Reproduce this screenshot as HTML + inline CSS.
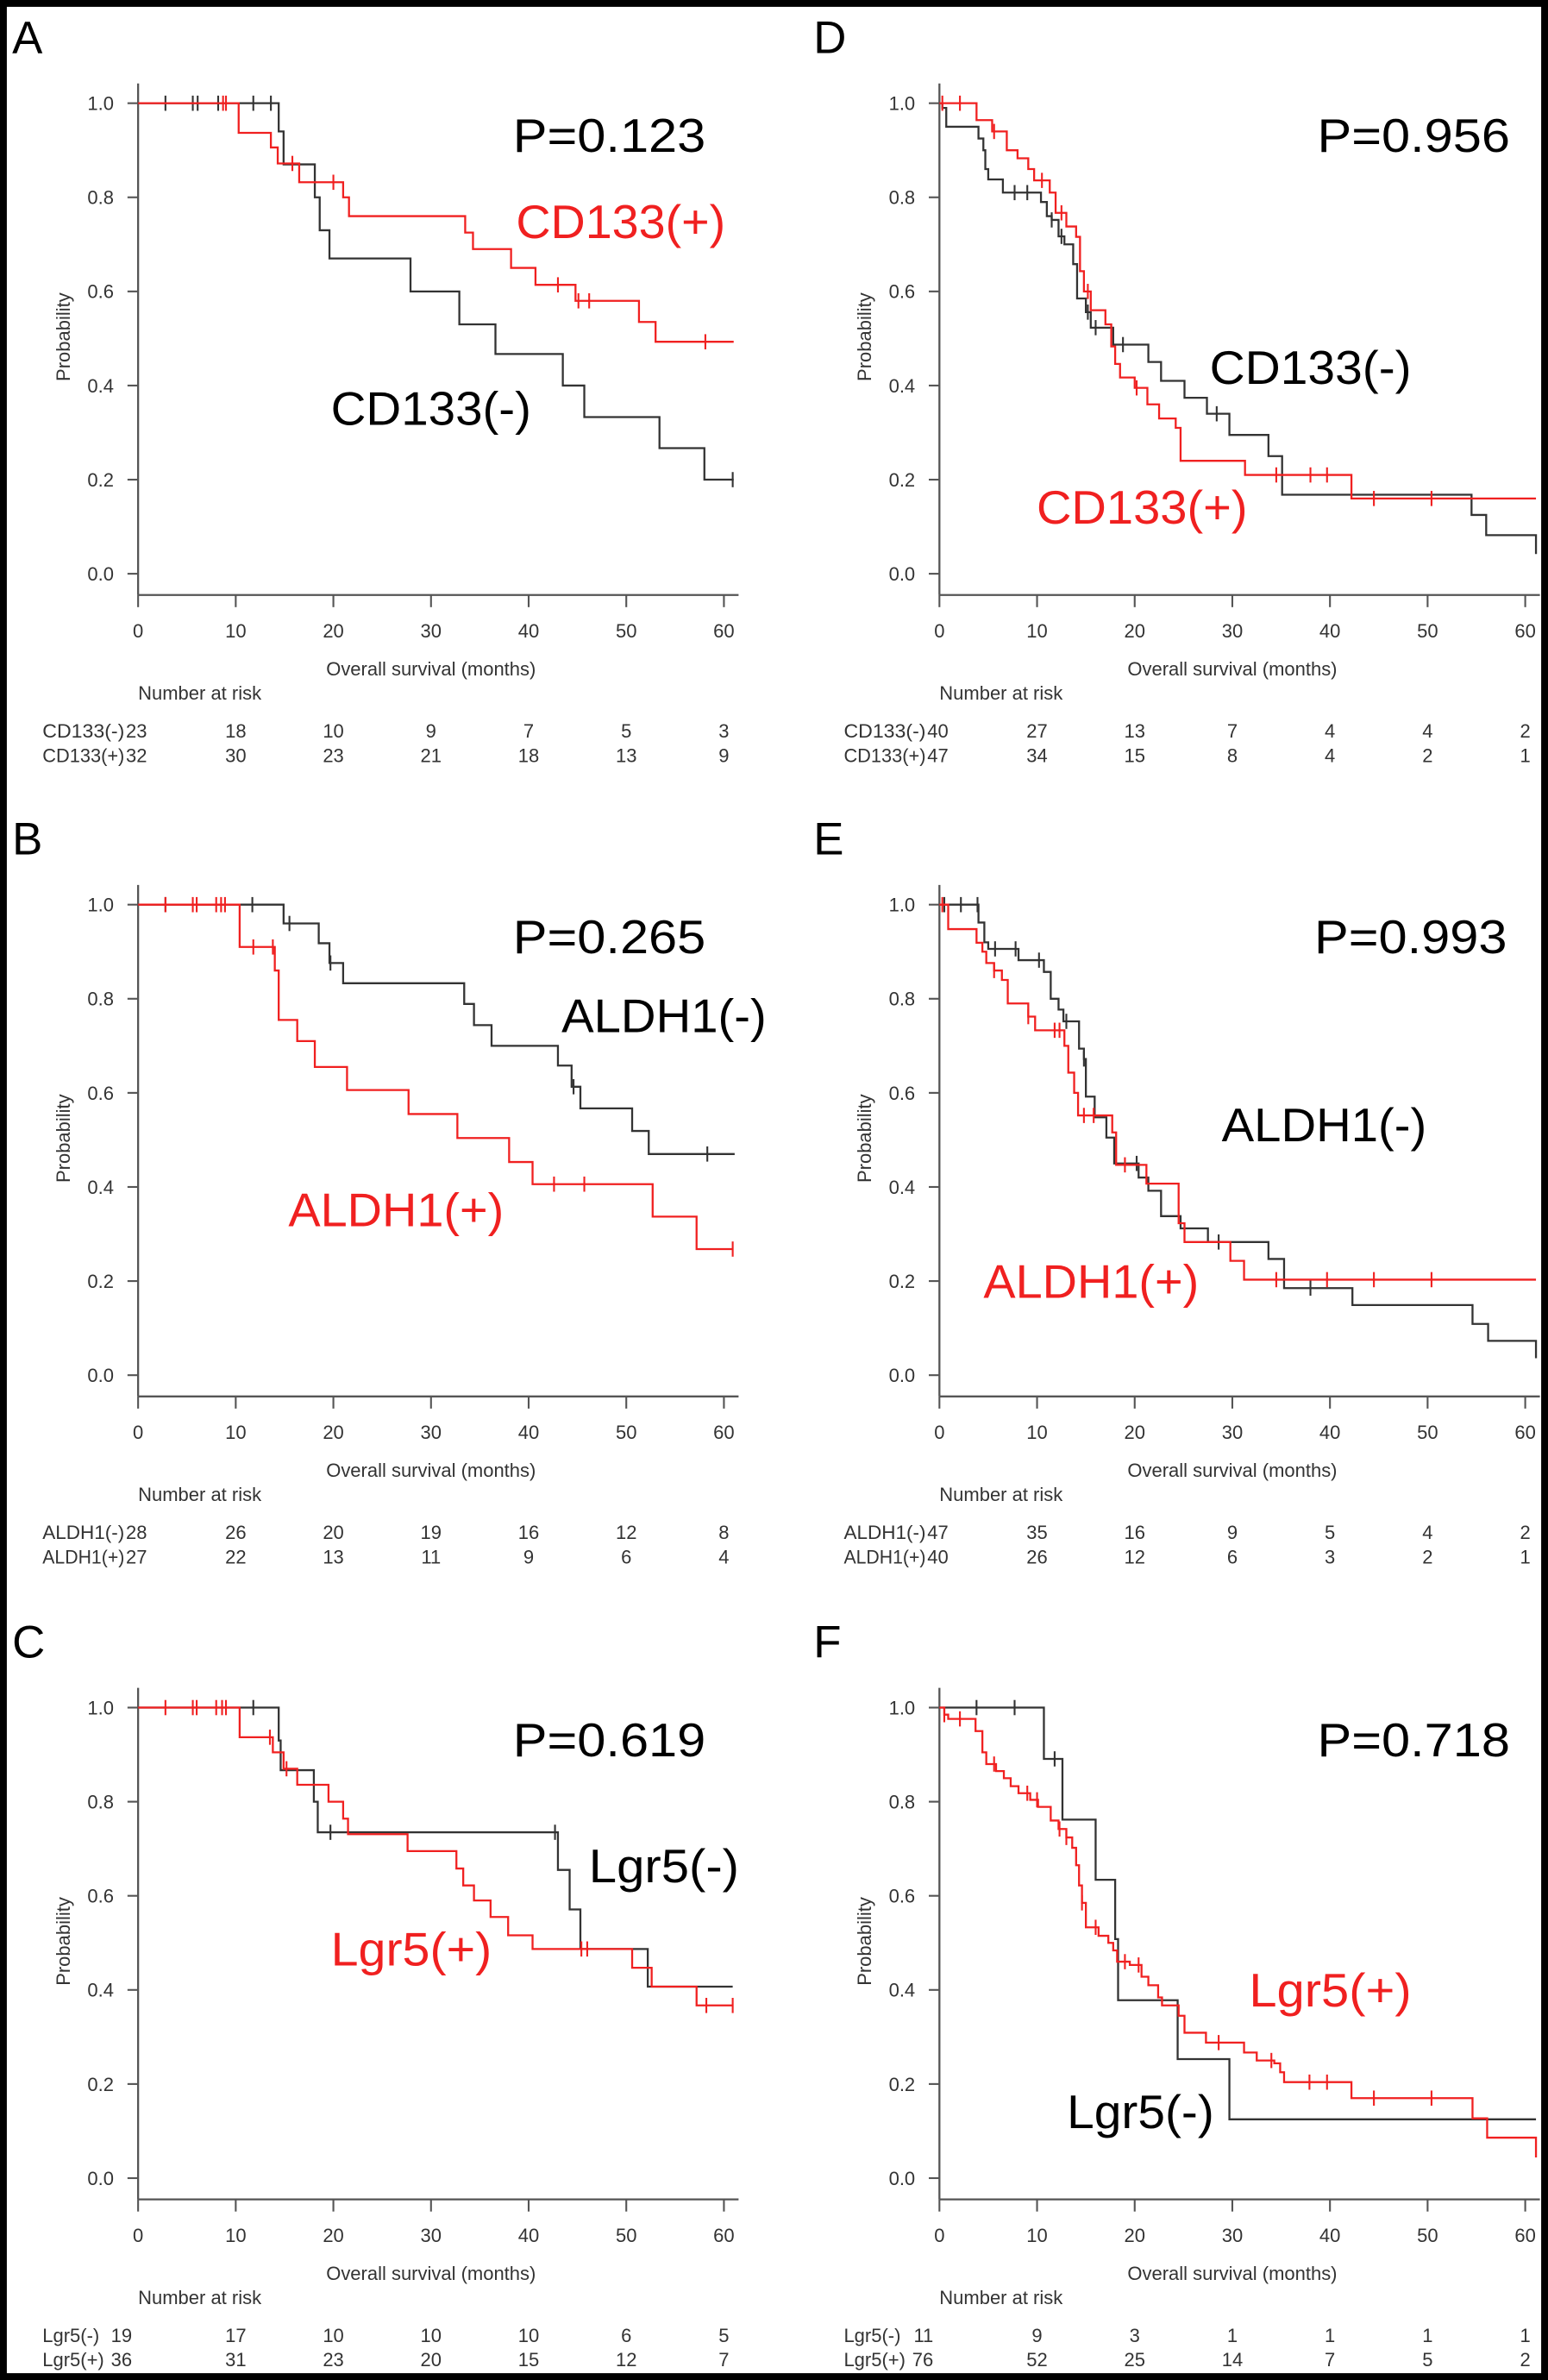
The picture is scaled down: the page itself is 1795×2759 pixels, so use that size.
<!DOCTYPE html>
<html><head><meta charset="utf-8">
<style>
html,body{margin:0;padding:0;background:#fff;}
svg{display:block;}
text{font-family:"Liberation Sans",Arial,sans-serif;}
</style></head>
<body>
<svg id="fig" width="1795" height="2759" viewBox="0 0 1020 1568" preserveAspectRatio="none" xmlns="http://www.w3.org/2000/svg">
<rect x="0" y="0" width="1020" height="1568" fill="#fff"/>
<rect x="2" y="2" width="1016" height="1564" fill="none" stroke="#000" stroke-width="5"/>
<g id="root"></g>
</svg>
<script>
const monthTicks = [0,10,20,30,40,50,60];
const probTicks = [0,0.2,0.4,0.6,0.8,1.0];

// Panel A
const aNegT=[14.4,14.9,18.1,18.6,19.6,27.9,32.9,36.6,43.5,45.7,53.4,58];
const aNegS=[0.94,0.87,0.8,0.73,0.67,0.6,0.53,0.467,0.4,0.333,0.267,0.2];
const aNegC=[2.8,5.6,6.1,8.2,11.8,13.6,60.9];
const aPosT=[10.3,13.6,14.3,16.5,21,21.6,33.5,34.3,38.2,40.7,44.8,51.3,53];
const aPosS=[0.937,0.906,0.872,0.832,0.8,0.76,0.725,0.69,0.65,0.614,0.58,0.535,0.493];
const aPosC=[8.7,9,15.8,20,43,45.1,46.2,58.1];
const aRiskNeg=[23,18,10,9,7,5,3];
const aRiskPos=[32,30,23,21,18,13,9];
// Panel D
const dNegT=[0.3,0.7,4.0,4.5,4.7,5.0,6.5,10.4,11,11.5,12.2,12.8,13.7,14.1,15,15.5,17.8,21.4,22.7,25.1,27.4,29.7,33.7,35.1,54.5,56,61.1];
const dNegS=[0.99,0.95,0.925,0.9,0.86,0.838,0.81,0.79,0.76,0.752,0.717,0.7,0.658,0.585,0.556,0.523,0.487,0.45,0.41,0.374,0.34,0.295,0.25,0.168,0.125,0.082,0.042];
const dNegC=[7.7,9,11.5,12.5,15.2,16,18.8,28.4];
const dPosT=[3.8,5.4,6.9,8,9.1,9.7,11.3,11.9,13,14,14.4,14.8,15.5,17,17.6,18,18.5,20,21.3,22.5,24.2,24.7,31.3,42.2];
const dPosS=[0.964,0.94,0.9,0.883,0.86,0.836,0.81,0.767,0.738,0.716,0.643,0.6,0.56,0.53,0.483,0.446,0.417,0.395,0.36,0.33,0.31,0.24,0.21,0.16];
const dPosC=[0.3,2.1,5.6,10.5,12.5,15.2,20.2,34.5,38,39.7,44.5,50.4];
const dRiskNeg=[40,27,13,7,4,4,2];
const dRiskPos=[47,34,15,8,4,2,1];
// Panel B
const bNegT=[14.9,18.5,19.6,21,33.4,34.4,36.2,43,44.4,45.3,50.6,52.3];
const bNegS=[0.96,0.918,0.876,0.833,0.789,0.744,0.7,0.658,0.613,0.567,0.519,0.47];
const bNegC=[2.8,11.7,15.5,19.7,44.6,58.3];
const bPosT=[10.4,14,14.4,16.3,18.1,21.4,27.7,32.7,38,40.4,52.7,57.2];
const bPosS=[0.91,0.86,0.755,0.71,0.655,0.606,0.555,0.504,0.453,0.406,0.337,0.268];
const bPosC=[2.8,5.6,6,8,8.5,8.9,11.8,13.8,42.6,45.7,60.9];
const bRiskNeg=[28,26,20,19,16,12,8];
const bRiskPos=[27,22,13,11,9,6,4];
// Panel E
const eNegT=[4.0,4.6,5.0,8.1,10.7,11.4,12.2,12.7,14.3,14.8,15,15.9,17.1,17.9,20.4,21.4,22.7,24.7,27.5,33.7,35.3,42.3,54.6,56.2,61.1];
const eNegS=[0.962,0.92,0.906,0.882,0.857,0.8,0.777,0.752,0.694,0.672,0.592,0.548,0.505,0.45,0.42,0.392,0.338,0.312,0.283,0.247,0.185,0.149,0.109,0.073,0.036];
const eNegC=[0.5,2.2,3.9,5.7,7.8,10.2,13,14.8,20.2,28.6,38];
const ePosT=[0.9,3.8,4.4,4.8,5.6,6.4,7,9.1,9.8,12.8,13.2,13.8,14.2,17.7,18.1,21.2,24.5,25.1,29.8,31.2];
const ePosS=[0.948,0.919,0.9,0.876,0.86,0.84,0.79,0.762,0.733,0.7,0.643,0.6,0.552,0.516,0.447,0.407,0.323,0.283,0.243,0.203];
const ePosC=[0.3,5.6,9.1,11.8,12.3,14.8,15.8,19,34.5,39.7,44.5,50.4];
const eRiskNeg=[47,35,16,9,5,4,2];
const eRiskPos=[40,26,12,6,3,2,1];
// Panel C
const cNegT=[14.4,14.6,18,18.4,43,44.2,45.3,52.2];
const cNegS=[0.93,0.867,0.8,0.735,0.655,0.571,0.487,0.407];
const cNegC=[11.8,19.7,42.7];
const cPosT=[10.4,13.8,14.9,16.3,19.5,21,21.5,27.6,32.6,33.3,34.4,36.1,37.9,40.4,50.6,52.6,57.2];
const cPosS=[0.937,0.905,0.87,0.836,0.8,0.764,0.731,0.695,0.658,0.622,0.59,0.555,0.516,0.487,0.447,0.407,0.367];
const cPosC=[2.8,5.6,6,8,8.6,9,13.5,15.2,45.4,46,58.2,60.9];
const cRiskNeg=[19,17,10,10,10,6,5];
const cRiskPos=[36,31,23,20,15,12,7];
// Panel F
const fNegT=[10.7,12.6,16,18,18.3,24.4,29.7];
const fNegS=[0.891,0.762,0.634,0.508,0.378,0.253,0.125];
const fNegC=[3.8,7.7,11.8];
const fPosT=[0.5,0.9,3.7,4.4,4.8,5.8,6.6,7.3,8.1,9.3,10.1,11.4,12.2,13,13.6,14,14.3,14.6,15,16.3,17.3,17.8,18.2,19.5,20.7,21.4,22.4,22.8,24.5,25.1,27.3,31.2,32.5,34.3,34.9,35.3,42.2,54.6,56.1,61.1];
const fPosS=[0.985,0.976,0.95,0.905,0.88,0.865,0.85,0.833,0.818,0.804,0.789,0.76,0.742,0.724,0.702,0.665,0.622,0.585,0.533,0.515,0.5,0.484,0.46,0.453,0.428,0.41,0.384,0.367,0.345,0.309,0.288,0.267,0.25,0.244,0.225,0.204,0.17,0.127,0.086,0.044];
const fPosC=[0.5,2.1,5.6,9,10,12.3,13,14.6,16,19,20.4,28.6,34,37.9,39.7,44.5,50.4];
const fRiskNeg=[11,9,3,1,1,1,1];
const fRiskPos=[76,52,25,14,7,5,2];

const NS='http://www.w3.org/2000/svg';
const root=document.getElementById('root');
function mk(tag,attrs,parent,txt){const e=document.createElementNS(NS,tag);for(const k in attrs)e.setAttribute(k,attrs[k]);if(txt!==undefined)e.textContent=txt;(parent||root).appendChild(e);return e;}

const panels=[
 {id:'a',letter:'A',dx:0,dy:0,p:'P=0.123',neg:['CD133(-)',aNegT,aNegS,aNegC,61,aRiskNeg],pos:['CD133(+)',aPosT,aPosS,aPosC,61,aRiskPos],
  negLbl:[218,280,132],posLbl:[340,157,138],pX:338,tight:true},
 {id:'d',letter:'D',dx:528,dy:0,p:'P=0.956',neg:['CD133(-)',dNegT,dNegS,dNegC,61.1,dRiskNeg],pos:['CD133(+)',dPosT,dPosS,dPosC,61.1,dRiskPos],
  negLbl:[797,253,133],posLbl:[683,345,139],pX:868,tight:true},
 {id:'b',letter:'B',dx:0,dy:528,p:'P=0.265',neg:['ALDH1(-)',bNegT,bNegS,bNegC,61.1,bRiskNeg],pos:['ALDH1(+)',bPosT,bPosS,bPosC,60.9,bRiskPos],
  negLbl:[370,680,135],posLbl:[190,808,142],pX:338,tight:true},
 {id:'e',letter:'E',dx:528,dy:528,p:'P=0.993',neg:['ALDH1(-)',eNegT,eNegS,eNegC,61.1,eRiskNeg],pos:['ALDH1(+)',ePosT,ePosS,ePosC,61.1,eRiskPos],
  negLbl:[805,752,135],posLbl:[648,855,142],pX:866,tight:true},
 {id:'c',letter:'C',dx:0,dy:1057,p:'P=0.619',neg:['Lgr5(-)',cNegT,cNegS,cNegC,60.9,cRiskNeg],pos:['Lgr5(+)',cPosT,cPosS,cPosC,60.9,cRiskPos],
  negLbl:[388,1240,99],posLbl:[218,1295,106],pX:338,tight:false},
 {id:'f',letter:'F',dx:528,dy:1057,p:'P=0.718',neg:['Lgr5(-)',fNegT,fNegS,fNegC,61.1,fRiskNeg],pos:['Lgr5(+)',fPosT,fPosS,fPosC,61.1,fRiskPos],
  negLbl:[703,1402,97],posLbl:[823,1322,107],pX:868,tight:false}
];
const RED='#f02020', BLK='#333', AX='#555';

panels.forEach(P=>{
  const g=mk('g',{});
  
  
  const x0=91+P.dx, yTop=68+P.dy, yBot=378+P.dy;
  const xs=t=>x0+t*(386/60);
  const ys=p=>yBot-p*(yBot-yTop);
  const lt=mk('text',{x:8+P.dx,y:35+P.dy,'font-size':30,fill:'#000'},g,P.letter);
  
  
  const ya=mk('line',{x1:x0,y1:55+P.dy,x2:x0,y2:392+P.dy,stroke:AX,'stroke-width':1.3},g);
  
  
  const xa=mk('line',{x1:x0,y1:392+P.dy,x2:xs(61.5),y2:392+P.dy,stroke:AX,'stroke-width':1.3},g);
  
  
  probTicks.forEach(v=>{
    mk('line',{x1:x0-7,y1:ys(v),x2:x0,y2:ys(v),stroke:AX,'stroke-width':1.2},g);
    const t=mk('text',{x:x0-16,y:ys(v)+4.5,'font-size':12.5,fill:'#333','text-anchor':'end'},g,v.toFixed(1));
    
    
  });
  monthTicks.forEach(m=>{
    mk('line',{x1:xs(m),y1:392+P.dy,x2:xs(m),y2:400+P.dy,stroke:AX,'stroke-width':1.2},g);
    const t=mk('text',{x:xs(m),y:420+P.dy,'font-size':12.5,fill:'#333','text-anchor':'middle'},g,String(m));
    
    
  });
  const yt=mk('text',{x:0,y:0,'font-size':12.5,fill:'#333','text-anchor':'middle',transform:`translate(${46+P.dx},${222+P.dy}) rotate(-90)`},g,'Probability');
  
  
  const xt=mk('text',{x:xs(30),y:445+P.dy,'font-size':12.5,fill:'#333','text-anchor':'middle'},g,'Overall survival (months)');
  
  
  [[P.neg,BLK,'negative'],[P.pos,RED,'positive']].forEach(([s,col,kind])=>{
    const [name,T,S,C,end]=s;
    let d=`M${xs(0)},${ys(1)}`;
    for(let i=0;i<T.length;i++){d+=` H${xs(T[i]).toFixed(2)} V${ys(S[i]).toFixed(2)}`;}
    d+=` H${xs(end).toFixed(2)}`;
    const path=mk('path',{d:d,fill:'none',stroke:col,'stroke-width':1.3},g);
    
    
    C.forEach(c=>{
      let sv=1;for(let i=0;i<T.length;i++){if(T[i]<=c)sv=S[i];}
      const tk=mk('line',{x1:xs(c),y1:ys(sv)-5,x2:xs(c),y2:ys(sv)+5,stroke:col,'stroke-width':1.2},g);
      
      
    });
  });
  const pt=mk('text',{x:P.pX,y:100+P.dy,'font-size':31,fill:'#000',textLength:127,lengthAdjust:'spacingAndGlyphs'},g,P.p);
  
  
  const nl=mk('text',{x:P.negLbl[0],y:P.negLbl[1],'font-size':31,fill:'#000',textLength:P.negLbl[2],lengthAdjust:'spacingAndGlyphs'},g,P.neg[0]);
  
  
  const pl=mk('text',{x:P.posLbl[0],y:P.posLbl[1],'font-size':31,fill:RED,textLength:P.posLbl[2],lengthAdjust:'spacingAndGlyphs'},g,P.pos[0]);
  
  
  const nr=mk('text',{x:x0,y:461+P.dy,'font-size':12.5,fill:'#333'},g,'Number at risk');
  
  
  [[P.neg,486],[P.pos,502]].forEach(([s,yy])=>{
    const name=s[0], R=s[5];
    const la={x:28+P.dx,y:yy+P.dy,'font-size':12.5,fill:'#333'};
    if(P.tight){la.textLength=54;la.lengthAdjust='spacingAndGlyphs';}
    const lab=mk('text',la,g,name);
    
    
    R.forEach((v,i)=>{
      let xx=xs(monthTicks[i]), anchor='middle';
      if(i===0){anchor=P.tight?'start':'end';xx=P.tight?x0-8:x0-4;}
      const t=mk('text',{x:xx,y:yy+P.dy,'font-size':12.5,fill:'#333','text-anchor':anchor},g,String(v));
      
      
    });
  });
});
</script>
</body></html>
